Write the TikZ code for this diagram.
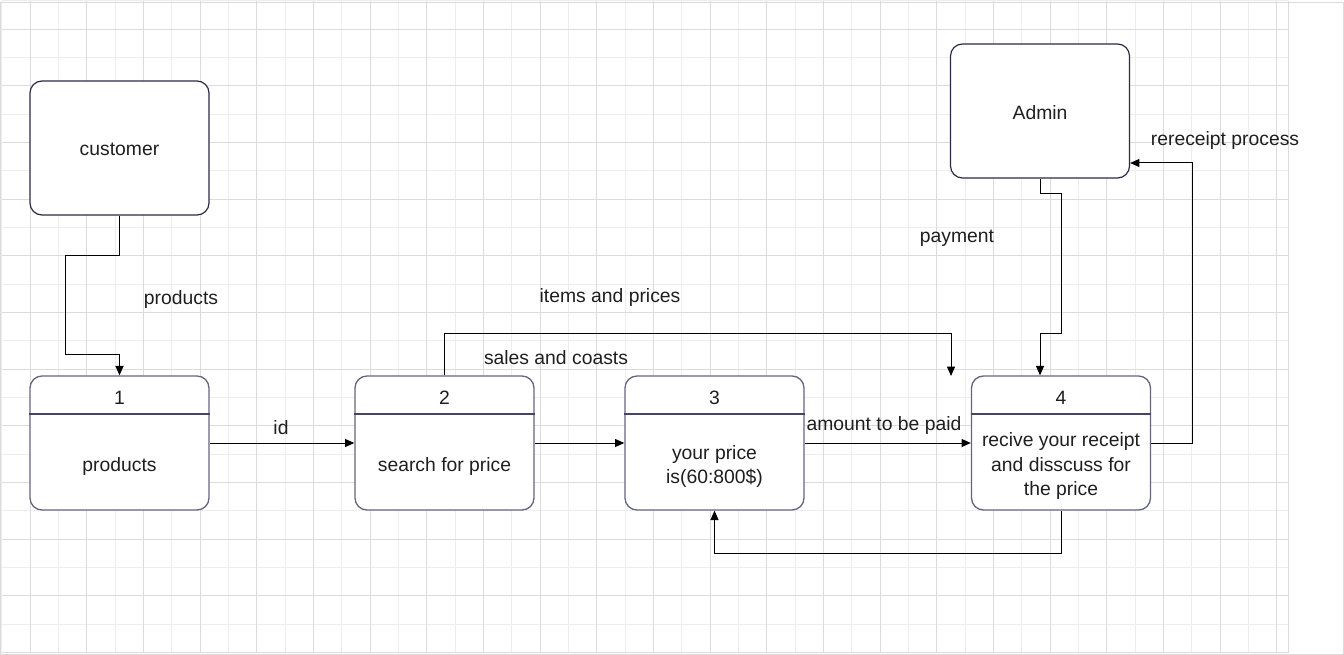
\documentclass[tikz,border=0pt]{standalone}
\usepackage{fontspec}
\setmainfont{Liberation Sans}
\usetikzlibrary{arrows.meta}
\definecolor{boxline}{HTML}{2A2A44}
\definecolor{procline}{HTML}{66667F}
\definecolor{hdrline}{HTML}{454560}
\begin{document}
\begin{tikzpicture}[x=0.75pt, y=-0.75pt,
  txt/.style={font=\fontsize{14.5}{18}\selectfont, text=black!88, inner sep=0pt},
  entity/.style={draw=boxline, line width=0.9pt, fill=white, rounded corners=9pt,
    minimum width=134.25pt, minimum height=100.5pt, txt},
  proc/.style={draw=procline, line width=1pt, fill=white, rounded corners=9pt,
    minimum width=134.25pt, minimum height=100.5pt},
  hdr/.style={draw=hdrline, line width=1.4pt},
  flow/.style={draw=black, line width=0.75pt, -{Triangle[length=7pt,width=6pt]}},
  minorln/.style={draw=black!7, line width=0.6pt},
  majorln/.style={draw=black!14, line width=0.6pt}]
\useasboundingbox (0,0) rectangle (1344,655);
\fill[white] (0,0) rectangle (1344,655);
% grid
\foreach \i in {0,...,45}
  \draw[minorln] (1.7+28.33*\i,0.7) -- (1.7+28.33*\i,653);
\foreach \j in {0,...,23}
  \draw[minorln] (1.7,0.7+28.33*\j) -- (1288,0.7+28.33*\j);
\foreach \i in {1,3,...,45}
  \draw[majorln] (1.7+28.33*\i,0.7) -- (1.7+28.33*\i,653);
\foreach \j in {1,3,...,23}
  \draw[majorln] (1.7,0.7+28.33*\j) -- (1288,0.7+28.33*\j);
\draw[majorln] (1288,0.7) -- (1288,653);
\draw[majorln] (0.5,2.5) rectangle (1343,654);
% external entities
\node[entity] (cust) at (119.5,148) {};
\node[entity] (admin) at (1040,111) {};
\node[txt] (tcust) at (119.5,149.5) {customer};
\node[txt] (tadmin) at (1040,112.5) {Admin};
% processes
\node[proc] (p1) at (119.5,443) {};
\node[proc] (p2) at (444.5,443) {};
\node[proc] (p3) at (714.5,443) {};
\node[proc] (p4) at (1061,443) {};
\foreach \p in {p1,p2,p3,p4}
  \draw[hdr] ([yshift=-29pt]\p.north west) -- ([yshift=-29pt]\p.north east);
\node[txt] (n1) at (119.5,397.5) {1};
\node[txt] (n2) at (444.5,397.5) {2};
\node[txt] (n3) at (714.5,397.5) {3};
\node[txt] (n4) at (1061,397.5) {4};
\node[txt] (t1) at (119.5,466) {products};
\node[txt] (t2) at (444.5,466) {search for price};
\node[txt, align=center] (t3) at (714.5,466) {your price\\is(60:800\$)};
\node[txt, align=center] (t4) at (1061,466) {recive your receipt\\and disscuss for\\the price};
% flows
\coordinate (salesend) at (951,376);
\draw[flow] (cust.south) -- (119.5,256) -- (65.5,256) -- (65.5,355) -- (119.5,355) -- (p1.north);
\draw[flow] (p1.east) -- (p2.west);
\draw[flow] (p2.east) -- (p3.west);
\draw[flow] (p3.east) -- (p4.west);
\draw[flow] (p2.north) -- (444.5,334) -| (salesend);
\draw[flow] (admin.south) -- (1040,194) -- (1061.5,194) -- (1061.5,334) -- (1040,334) -- (p4.north -| admin.south);
\draw[flow] (p4.east) -- (1192,443) -- (1192,163) -- ([yshift=-39pt]admin.east);
\draw[flow] (p4.south) -- (1061,553) -| (p3.south);
% labels
\node[txt] (lprod) at (181,300) {products};
\node[txt] (lid) at (281,428) {id};
\node[txt] (litems) at (610,298) {items and prices};
\node[txt] (lsales) at (556,358) {sales and coasts};
\node[txt] (lamount) at (884,426) {amount to be paid};
\node[txt] (lpay) at (957,238) {payment};
\node[txt] (lrer) at (1225,141) {rereceipt process};
\end{tikzpicture}
\end{document}
